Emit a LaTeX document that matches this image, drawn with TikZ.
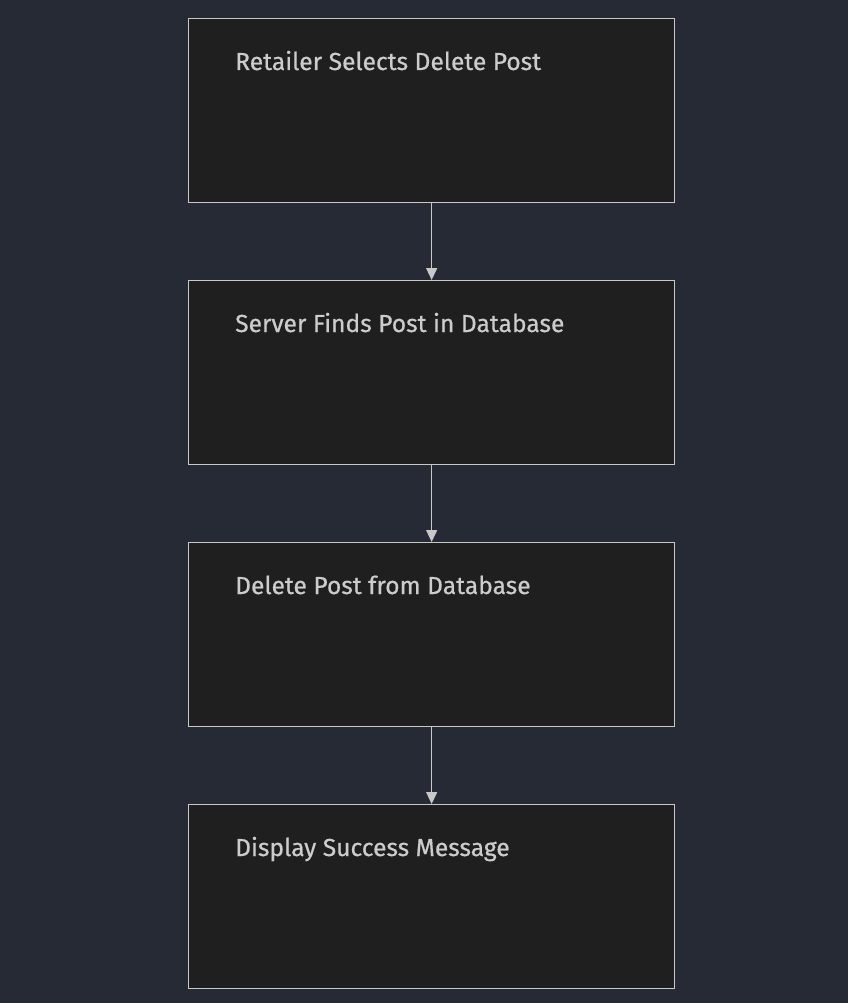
\documentclass[tikz,border=0pt]{standalone}
\usepackage{fontspec}
\setmainfont{Fira Sans}[FakeBold=0.6]
\usetikzlibrary{arrows.meta}
\definecolor{bg}{HTML}{262A35}
\definecolor{boxfill}{HTML}{1F1F1F}
\definecolor{edge}{HTML}{C8C8C8}
\definecolor{txt}{HTML}{CCCCCC}
\begin{document}
\begin{tikzpicture}[x=1pt,y=-1pt,
  stepbox/.style={draw=edge,fill=boxfill,line width=1.3pt,minimum width=486pt,minimum height=184pt,anchor=north west,inner sep=0pt},
  lbl/.style={anchor=base west,text=txt,font=\fontsize{24.6}{28}\selectfont,inner sep=0pt},
  conn/.style={draw=edge,line width=1.3pt,-{Triangle[length=12pt,width=11pt]}}]
\fill[bg] (0,0) rectangle (848,1003);
\useasboundingbox (0,0) rectangle (848,1003);
\node[stepbox] (a) at (188,18) {};
\node[stepbox] (b) at (188,280) {};
\node[stepbox] (c) at (188,542) {};
\node[stepbox] (d) at (188,804) {};
\node[lbl] (ta) at (235,70) {Retailer Selects Delete Post};
\node[lbl] (tb) at (235,332) {Server Finds Post in Database};
\node[lbl] (tc) at (235,594) {Delete Post from Database};
\node[lbl] (td) at (235,856) {Display Success Message};
\draw[conn] (a.south) -- (b.north);
\draw[conn] (b.south) -- (c.north);
\draw[conn] (c.south) -- (d.north);
\end{tikzpicture}
\end{document}
